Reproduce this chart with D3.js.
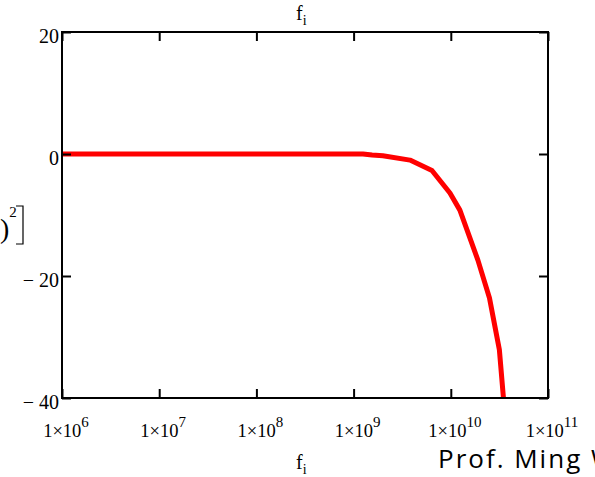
<!DOCTYPE html>
<html>
<head>
<meta charset="utf-8">
<script src="https://cdn.jsdelivr.net/npm/d3@7"></script>
<style>
  body { margin: 0; background: #fff; overflow: hidden; }
  svg { display: block; }
</style>
</head>
<body>
<div class="plot"></div>
<script>
// values
const freqs = [1e6, 1e7, 1e8, 1e9, 1.25e9, 1.55e9, 2e9, 3.8e9, 6.4e9, 9.8e9, 1.24e10, 1.9e10, 2.5e10, 3.16e10, 3.7e10];
const gainDb = [0, 0, 0, 0, 0, -0.16, -0.28, -1.0, -2.7, -6.4, -9.2, -17.4, -23.6, -32.1, -45];
const xTickExps = [6, 7, 8, 9, 10, 11];
const yTicks = [20, 0, -20, -40];

const width = 595;
const height = 477;
const plotL = 62, plotR = 548, plotT = 32, plotB = 398;

const svg = d3.select('.plot')
    .append('svg')
    .attr('width', width)
    .attr('height', height);

const x = d3.scaleLog().domain([1e6, 1e11]).range([plotL, plotR]);
const y = d3.scaleLinear().domain([-40, 20]).range([plotB, plotT]);

const serif = "'Liberation Serif', 'Times New Roman', serif";

// clip for the curve
svg.append('clipPath').attr('id', 'clip')
    .append('rect')
    .attr('x', plotL).attr('y', plotT)
    .attr('width', plotR - plotL).attr('height', plotB - plotT);

const pts = freqs.map((f, i) => [f, gainDb[i]]);

svg.append('path')
    .datum(pts)
    .attr('clip-path', 'url(#clip)')
    .attr('fill', 'none')
    .attr('stroke', '#ff0000')
    .attr('stroke-width', 5)
    .attr('stroke-linejoin', 'round')
    .attr('d', d3.line().x(d => x(d[0])).y(d => y(d[1])));

// frame
svg.append('rect')
    .attr('x', plotL).attr('y', plotT)
    .attr('width', plotR - plotL).attr('height', plotB - plotT)
    .attr('fill', 'none')
    .attr('stroke', '#000')
    .attr('stroke-width', 2);

// inward ticks on all four sides
const tickLen = 9;
const xTickVals = xTickExps.map(e => Math.pow(10, e));

svg.append('g').call(d3.axisBottom(x).tickValues(xTickVals).tickSize(-tickLen).tickFormat(''))
    .attr('transform', `translate(0,${plotB})`);
svg.append('g').call(d3.axisTop(x).tickValues(xTickVals).tickSize(-tickLen).tickFormat(''))
    .attr('transform', `translate(0,${plotT})`);
svg.append('g').call(d3.axisLeft(y).tickValues(yTicks).tickSize(-tickLen).tickFormat(''))
    .attr('transform', `translate(${plotL},0)`);
svg.append('g').call(d3.axisRight(y).tickValues(yTicks).tickSize(-tickLen).tickFormat(''))
    .attr('transform', `translate(${plotR},0)`);

svg.selectAll('.domain').remove();
svg.selectAll('.tick line').attr('stroke', '#000').attr('stroke-width', 2);

// y tick labels
svg.selectAll('.ylab')
    .data(yTicks)
    .enter()
    .append('text')
    .attr('class', 'ylab')
    .attr('x', plotL - 3)
    .attr('y', d => y(d) + 11)
    .attr('text-anchor', 'end')
    .attr('font-family', serif)
    .attr('font-size', 20)
    .text(d => d < 0 ? '\u2212 ' + Math.abs(d) : d);

// x tick labels 1x10^n
const xl = svg.selectAll('.xlab')
    .data(xTickExps)
    .enter()
    .append('text')
    .attr('class', 'xlab')
    .attr('x', d => x(Math.pow(10, d)) + 4)
    .attr('y', 437)
    .attr('text-anchor', 'middle')
    .attr('font-family', serif)
    .attr('font-size', 18.5);
xl.append('tspan').text('1\u00d710');
xl.append('tspan').attr('dy', -10).attr('font-size', 15).text(d => d);

// axis titles f_i
function fi(xp, yp) {
    const t = svg.append('text')
        .attr('x', xp).attr('y', yp)
        .attr('font-family', serif)
        .attr('font-size', 20);
    t.append('tspan').text('f');
    t.append('tspan').attr('dy', 5).attr('font-size', 14).text('i');
}
fi(296, 20);
fi(296, 469);

// cut-off y axis title
const yt = svg.append('text')
    .attr('x', 0).attr('y', 238)
    .attr('font-family', serif)
    .attr('font-size', 28);
yt.append('tspan').text(')');
yt.append('tspan').attr('dy', -21).attr('font-size', 15).text('2');
svg.append('path')
    .attr('d', 'M16,206 H23 V244 H16')
    .attr('fill', 'none')
    .attr('stroke', '#000')
    .attr('stroke-width', 1.2);

// footer
svg.append('text')
    .attr('x', 438).attr('y', 468)
    .attr('font-family', "'Open Sans', 'Noto Sans', sans-serif")
    .attr('font-size', 26)
    .attr('letter-spacing', 2)
    .attr('fill', '#000')
    .text('Prof. Ming Wu');
</script>
</body>
</html>
